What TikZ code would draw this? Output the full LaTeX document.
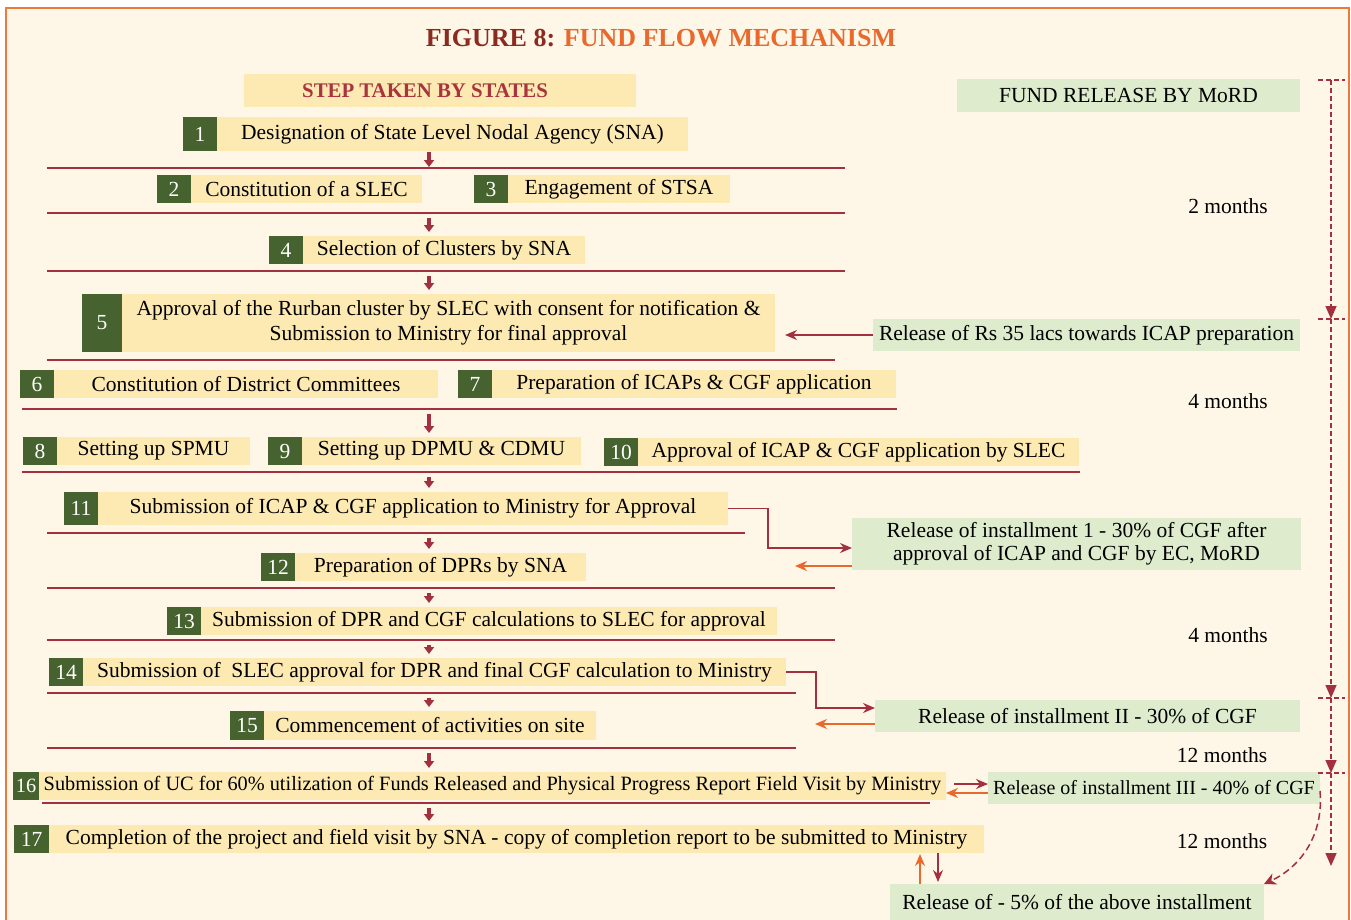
\documentclass[tikz,border=0pt]{standalone}
\usepackage{fontspec}
\setmainfont{Liberation Serif}
\usetikzlibrary{
  arrows.meta,
  calc,
  positioning,
}
\definecolor{bg}{HTML}{FEF7E7}
\definecolor{frame}{HTML}{EC7A3C}
\definecolor{yel}{HTML}{FDE9B2}
\definecolor{grn}{HTML}{45622F}
\definecolor{lgrn}{HTML}{DEEBCC}
\definecolor{mar}{HTML}{A3303F}
\definecolor{org}{HTML}{E9692C}
\definecolor{ttl}{HTML}{8C2A1F}
\definecolor{hdr}{HTML}{A8343F}

\begin{document}
\begin{tikzpicture}[
    x = 1pt,
    y = -1pt,
    font=\fontsize{21.5pt}{25pt}\selectfont,
    s/.style={
      fill=yel, minimum height=28pt,
      inner sep=0pt, outer sep=0pt,
    },
    g/.style={s, fill=grn, text=white, minimum width=34pt, anchor=north west},
    r/.style={s, fill=lgrn, minimum height=32pt, anchor=north west, align=center},
    l/.style={draw=mar, line width=2pt},
    d/.style={draw=mar, line width=3.2pt, shorten <=5pt, shorten >=4pt,
      -{Triangle[width=10pt,length=7pt]}},
    m/.style={draw=mar, line width=1.5pt, -{Stealth[width=10pt,length=12pt]}},
    o/.style={draw=org, line width=1.5pt, -{Stealth[width=10pt,length=12pt]}},
    t/.style={draw=mar, line width=1.5pt, dash pattern=on 5pt off 3pt},
    tl/.style={t, -{Triangle[width=11pt,length=13pt]}},]
  \useasboundingbox (0,0) rectangle (1351,919);
  \draw[fill=bg, draw=frame, line width=2pt] (6,8) rectangle (1349,960);
  %%
  \node (Title) at (661,38)
  {\fontsize{26pt}{30pt}\selectfont\bfseries
    \color{ttl}FIGURE 8: \color{org}FUND FLOW MECHANISM};
  \node[s, anchor=north west, minimum width=392pt, minimum height=33pt,
  text=hdr, font=\fontsize{20.8pt}{24pt}\selectfont\bfseries]
  (Steps) at (244,74) {STEP TAKEN BY STATES\hspace*{30pt}};
  \node[r, minimum width=343pt, minimum height=33pt]
  (Mord) at (957,79) {FUND RELEASE BY MoRD};
  %%
  \node[g, minimum height=34pt] (DesigN) at (183,117) {1};
  \node[s, minimum height=34pt, minimum width=471pt, right=0pt of DesigN]
  (Desig) {Designation of State Level Nodal Agency (SNA)};
  \node[g] (SlecN) at (157,175) {2};
  \node[s, minimum width=231pt, right=0pt of SlecN]
  (Slec) {Constitution of a SLEC};
  \node[g] (StsaN) at (474,175) {3};
  \node[s, minimum width=222pt, right=0pt of StsaN]
  (Stsa) {Engagement of STSA};
  \node[g] (ClusN) at (269,236) {4};
  \node[s, minimum width=282pt, right=0pt of ClusN]
  (Clus) {Selection of Clusters by SNA};
  \node[g, minimum width=40pt, minimum height=58pt] (ApprN) at (82,294) {5};
  \node[s, minimum width=653pt, minimum height=58pt, align=center,
  right=0pt of ApprN]
  (Appr) {Approval of the Rurban cluster by SLEC with consent for notification \&\\
    Submission to Ministry for final approval};
  \node[g] (DistN) at (20,370) {6};
  \node[s, minimum width=384pt, right=0pt of DistN]
  (Dist) {Constitution of District Committees};
  \node[g] (IcapN) at (458,370) {7};
  \node[s, minimum width=404pt, right=0pt of IcapN]
  (Icap) {Preparation of ICAPs \& CGF application};
  \node[g] (SpmuN) at (23,437) {8};
  \node[s, minimum width=193pt, right=0pt of SpmuN]
  (Spmu) {Setting up SPMU};
  \node[g] (DpmuN) at (268,437) {9};
  \node[s, minimum width=279pt, right=0pt of DpmuN]
  (Dpmu) {Setting up DPMU \& CDMU};
  \node[g] (OkN) at (604,438) {10};
  \node[s, minimum width=441pt, right=0pt of OkN]
  (Ok) {Approval of ICAP \& CGF application by SLEC};
  \node[g, minimum height=33pt] (SubN) at (64,492) {11};
  \node[s, minimum width=630pt, minimum height=33pt, right=0pt of SubN]
  (Sub) {Submission of ICAP \& CGF application to Ministry for Approval};
  \node[g] (DprN) at (261,553) {12};
  \node[s, minimum width=291pt, right=0pt of DprN]
  (Dpr) {Preparation of DPRs by SNA};
  \node[g] (DprSubN) at (167,607) {13};
  \node[s, minimum width=576pt, right=0pt of DprSubN]
  (DprSub) {Submission of DPR and CGF calculations to SLEC for approval};
  \node[g] (FinalN) at (49,658) {14};
  \node[s, minimum width=703pt, right=0pt of FinalN]
  (Final) {Submission of \ SLEC approval for DPR and final CGF calculation to Ministry};
  \node[g, minimum height=29pt] (WorkN) at (230,711) {15};
  \node[s, minimum width=332pt, minimum height=29pt, right=0pt of WorkN]
  (Work) {Commencement of activities on site};
  \node[g, minimum width=26pt, font=\fontsize{20.3pt}{24pt}\selectfont]
  (UcN) at (13,772) {16};
  \node[s, minimum width=907pt, font=\fontsize{20.3pt}{24pt}\selectfont,
  right=0pt of UcN]
  (Uc) {Submission of UC for 60\% utilization of Funds Released and Physical
    Progress Report Field Visit by Ministry};
  \node[g, minimum width=35pt] (DoneN) at (14,825) {17};
  \node[s, minimum width=935pt, right=0pt of DoneN]
  (Done) {Completion of the project and field visit by SNA - copy of completion
    report to be submitted to Ministry};
  %%
  \node[r, minimum width=427pt] (Rs) at (873,319)
  {Release of Rs 35 lacs towards ICAP preparation};
  \node[r, minimum width=449pt, minimum height=52pt, font=\fontsize{21.5pt}{23pt}\selectfont]
  (Rel1) at (852,518)
  {Release of installment 1 - 30\% of CGF after\\approval of ICAP and CGF by EC, MoRD};
  \node[r, minimum width=425pt] (Rel2) at (875,700)
  {Release of installment II - 30\% of CGF};
  \node[r, minimum width=332pt, font=\fontsize{20pt}{24pt}\selectfont]
  (Rel3) at (988,772) {Release of installment III - 40\% of CGF};
  \node[r, minimum width=374pt, minimum height=36pt] (Rel5) at (890,884)
  {Release of - 5\% of the above installment};
  %%
  \node (M1) at (1228,206) {2 months};
  \node (M2) at (1228,401) {4 months};
  \node (M3) at (1228,635) {4 months};
  \node (M4) at (1222,755) {12 months};
  \node (M5) at (1222,841) {12 months};
  %%
  \draw[l] (47,168) -- (845,168); \coordinate (L1) at (429,168);
  \draw[l] (47,213) -- (845,213); \coordinate (L2) at (429,213);
  \draw[l] (47,271) -- (845,271); \coordinate (L3) at (429,271);
  \draw[l] (47,360) -- (835,360);
  \draw[l] (22,409) -- (897,409); \coordinate (L5) at (429,409);
  \draw[l] (22,472) -- (1080,472); \coordinate (L6) at (429,472);
  \draw[l] (47,533) -- (745,533); \coordinate (L7) at (429,533);
  \draw[l] (47,588) -- (835,588); \coordinate (L8) at (429,588);
  \draw[l] (47,640) -- (835,640); \coordinate (L9) at (429,640);
  \draw[l] (47,693) -- (796,693); \coordinate (L10) at (429,693);
  \draw[l] (47,748) -- (796,748); \coordinate (L11) at (429,748);
  \draw[l] (42,803) -- (930,803); \coordinate (L12) at (429,803);
  %%
  \draw[d, shorten <=1pt, shorten >=1pt] (Desig.south -| L1) -- (L1);
  \draw[d] (L2) -- (L2 |- Clus.north);
  \draw[d] (L3) -- (L3 |- Appr.north);
  \draw[d] (L5) -- (L5 |- Spmu.north);
  \draw[d] (L6) -- (L6 |- Sub.north);
  \draw[d] (L7) -- (L7 |- Dpr.north);
  \draw[d] (L8) -- (L8 |- DprSub.north);
  \draw[d] (L9) -- (L9 |- Final.north);
  \draw[d] (L10) -- (L10 |- Work.north);
  \draw[d] (L11) -- (L11 |- Uc.north);
  \draw[d] (L12) -- (L12 |- Done.north);
  %%
  \draw[m, shorten >=10pt] (Rs.west) -- (Rs.west -| Appr.east);
  \draw[m] (Sub.east) -- ++(40,0) |- ([yshift=-4pt]Rel1.west);
  \draw[o] ([yshift=4pt]Rel1.south west) -- +(-57,0);
  \draw[m] (Final.east) -- ++(30,0) |- ([yshift=8pt]Rel2.west);
  \draw[o] ([yshift=8pt]Rel2.south west) -- +(-60,0);
  \draw[m, shorten <=8pt] ([yshift=4pt]Rel3.west -| Uc.east)
  -- ([yshift=4pt]Rel3.west);
  \draw[o] ([yshift=-5pt]Rel3.west) -- ([yshift=-5pt]Rel3.west -| Uc.east);
  \draw[o, shorten >=1pt] ([xshift=30pt]Rel5.north west)
  -- ([xshift=30pt]Rel5.north west |- Done.south);
  \draw[m, shorten >=2pt] ([xshift=48pt]Rel5.north west |- Done.south)
  -- ([xshift=48pt]Rel5.north west);
  %%
  \coordinate (T0) at (1331,80);
  \coordinate (T1) at (1331,319);
  \coordinate (T2) at (1331,698);
  \coordinate (T3) at (1331,773);
  \coordinate (T4) at (1331,866);
  \draw[tl] (T0) -- (T1);
  \draw[tl] (T1) -- (T2);
  \draw[tl] (T2) -- (T3);
  \draw[tl] (T3) -- (T4);
  \draw[t] ([xshift=-13pt]T0) -- ([xshift=14pt]T0);
  \draw[t] ([xshift=-13pt]T1) -- ([xshift=14pt]T1);
  \draw[t] ([xshift=-13pt]T2) -- ([xshift=14pt]T2);
  \draw[t] ([xshift=-13pt]T3) -- ([xshift=14pt]T3);
  \draw[t, dash pattern=on 7pt off 4pt, -{Stealth[width=12pt,length=12pt]}]
  ([yshift=-3pt]Rel3.east) to[out=-85,in=25] (Rel5.north east);
\end{tikzpicture}
\end{document}
